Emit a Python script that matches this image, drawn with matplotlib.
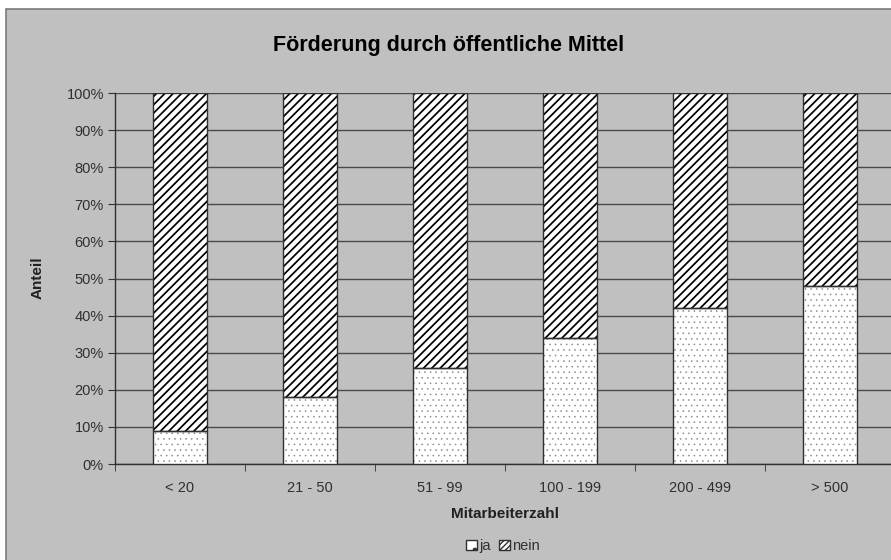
import matplotlib
matplotlib.use("Agg")
import matplotlib.pyplot as plt
from matplotlib.patches import Rectangle, Patch
import numpy as np

# -------------------------
# Data
# -------------------------
categories = ["< 20", "21 - 50", "51 - 99", "100 - 199", "200 - 499", "> 500"]
ja = [9, 18, 26, 34, 42, 48]
nein = [100 - v for v in ja]
yticks = [0, 10, 20, 30, 40, 50, 60, 70, 80, 90, 100]

BG = "#C0C0C0"
plt.rcParams["font.family"] = ["Liberation Sans", "DejaVu Sans"]

fig = plt.figure(figsize=(8.91, 5.6), dpi=100, facecolor="white")

# chart area frame (cut off at right and bottom like the screenshot)
frame = Rectangle((6 / 891, -0.05), 1.0, (560 - 9) / 560 + 0.05,
                  transform=fig.transFigure, facecolor=BG, edgecolor="#7a7a7a",
                  linewidth=1.2, zorder=-5)
fig.patches.append(frame)

ax = fig.add_axes([115 / 891, 96 / 560, 780 / 891, 371 / 560])
ax.set_zorder(2)
ax.set_facecolor(BG)

x = np.arange(len(categories))
w = 0.41

# ja: white with small grey dots
with plt.rc_context({"hatch.linewidth": 0.4}):
    ax.bar(x, ja, w, color="white", edgecolor="#8c8c8c", hatch="...", linewidth=0, zorder=3)
ax.bar(x, ja, w, color="none", edgecolor="#303030", linewidth=1.0, zorder=4)
# nein: dense black diagonal stripes
with plt.rc_context({"hatch.linewidth": 1.25}):
    ax.bar(x, nein, w, bottom=ja, color="white", edgecolor="black", hatch="////", linewidth=0, zorder=3)
ax.bar(x, nein, w, bottom=ja, color="none", edgecolor="#303030", linewidth=1.0, zorder=4)

ax.set_xlim(-0.5, len(categories) - 0.5)
ax.set_ylim(0, 100)
ax.set_yticks(yticks)
ax.set_yticklabels([f"{v}%" for v in yticks], fontsize=10.5, color="#303030")
ax.yaxis.grid(True, color="#4a4a4a", linewidth=1.0, zorder=1)
ax.set_axisbelow(True)

ax.set_xticks(x)
ax.set_xticklabels(categories, fontsize=10.5, color="#303030")
ax.set_xticks(np.arange(-0.5, len(categories)), minor=True)
ax.tick_params(axis="x", which="major", length=0, pad=12)
ax.tick_params(axis="x", which="minor", length=5, color="#303030", direction="out")
ax.tick_params(axis="y", length=5, color="#303030", direction="out", pad=3)

for side in ["top", "right"]:
    ax.spines[side].set_visible(False)
for side in ["left", "bottom"]:
    ax.spines[side].set_color("#303030")
    ax.spines[side].set_linewidth(1.0)

ax.set_xlabel("Mitarbeiterzahl", fontsize=11, fontweight="bold", labelpad=9, color="#202020")
fig.text(38 / 891, 1 - 278 / 560, "Anteil", rotation=90, fontsize=11,
         fontweight="bold", ha="center", va="center", color="#202020")

fig.text(449 / 891, 1 - 45 / 560, "Förderung durch öffentliche Mittel",
         fontsize=15.5, fontweight="bold", ha="center", va="center", color="black")

with plt.rc_context({"hatch.linewidth": 1.0}):
    handles = [Patch(facecolor="white", edgecolor="#303030", hatch=".", label="ja"),
               Patch(facecolor="white", edgecolor="#303030", hatch="//////", label="nein")]
fig.legend(handles=handles, loc="center", bbox_to_anchor=(503 / 891, 1 - 546 / 560),
           ncol=2, frameon=False, fontsize=10.5, handlelength=0.75, handleheight=0.75,
           handletextpad=0.15, columnspacing=0.6, labelcolor="#303030")

fig.savefig("out.png", dpi=100, facecolor="white")
